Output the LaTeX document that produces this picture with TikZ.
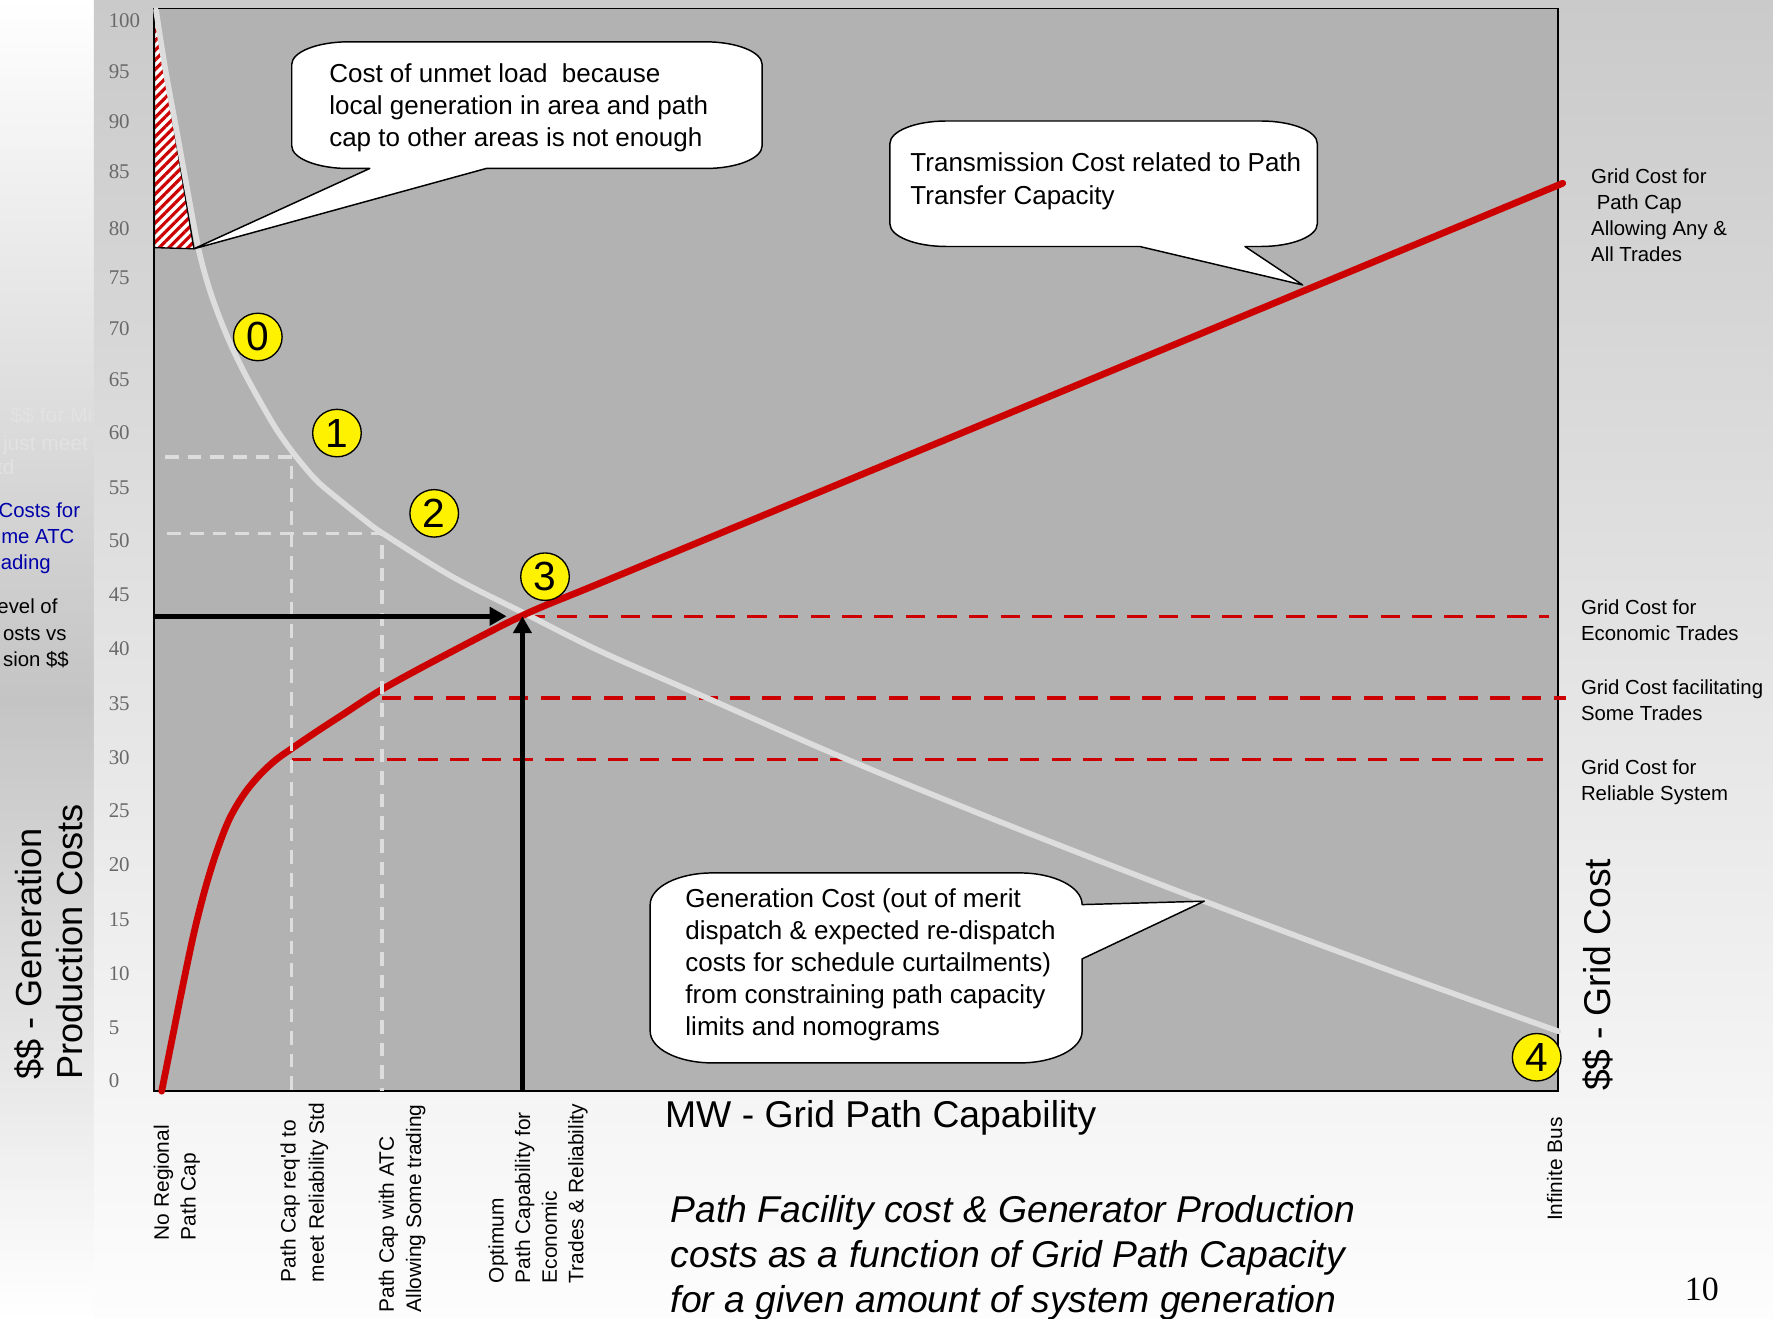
\documentclass[tikz,border=0pt]{standalone}
\usepackage{fontspec}
\setmainfont{Liberation Sans}
\newfontfamily\numfont{Liberation Serif}
\usetikzlibrary{arrows.meta,patterns.meta,shapes.geometric}

\definecolor{plotgray}{RGB}{178,178,178}
\definecolor{curvegray}{RGB}{221,221,221}
\definecolor{gridred}{RGB}{204,0,0}
\definecolor{ticktext}{RGB}{105,105,105}
\definecolor{bgtop}{RGB}{202,202,202}
\definecolor{bgbot}{RGB}{253,253,253}
\definecolor{stripmid}{RGB}{196,196,196}
\definecolor{fadedtext}{RGB}{226,226,226}
\definecolor{notesblue}{RGB}{0,0,170}

\begin{document}
\begin{tikzpicture}[x=1pt,y=-1pt,
  bubble/.style={fill=white,draw=black,line width=1.3pt,line join=round},
  calltext/.style={anchor=north west,align=left,inner sep=0pt,font=\fontsize{23}{28.3}\selectfont},
  sidetext/.style={anchor=north west,align=left,inner sep=0pt,font=\fontsize{18}{23}\selectfont},
  axlabel/.style={anchor=north west,align=left,inner sep=0pt,rotate=90,font=\fontsize{18.5}{23.5}\selectfont},
  ticklabel/.style={anchor=west,inner sep=0pt,text=ticktext,font=\numfont\fontsize{18.5}{20}\selectfont},
  badge/.style={ellipse,fill=yellow,draw=black,line width=1.2pt,minimum width=43pt,minimum height=42pt,inner sep=0pt,font=\fontsize{36}{36}\selectfont},
  refdash/.style={draw=curvegray,line width=3pt,dash pattern=on 12pt off 8pt},
  leveldash/.style={draw=gridred,line width=2.5pt,dash pattern=on 17pt off 11pt},
  leaderarrow/.style={line width=4.5pt,-{Triangle[length=15pt,width=16pt]}},
  stripnote/.style={anchor=base east,inner sep=0pt,font=\fontsize{18}{23}\selectfont}
]
\useasboundingbox (0,0) rectangle (1568,1166);

% ---- backgrounds ----
\shade[top color=white,bottom color=stripmid] (0,0) rectangle (84,620);
\shade[top color=stripmid,bottom color=white] (0,619.5) rectangle (84,1166);

% notes of the slide column at the left edge
\node[stripnote,text=fadedtext,font=\fontsize{18.5}{23}\selectfont] (noteC1) at (92,374) {\$\$ for Min};
\node[stripnote,text=fadedtext,font=\fontsize{18.5}{23}\selectfont] (noteC2) at (78,398) {just meet};
\node[stripnote,text=fadedtext,font=\fontsize{18.5}{23}\selectfont] (noteC3) at (13,420) {td};
\node[stripnote,text=notesblue] (noteA1) at (71,458) {Costs for};
\node[stripnote,text=notesblue] (noteA2) at (66,481) {me ATC};
\node[stripnote,text=notesblue] (noteA3) at (45,504) {ading};
\node[stripnote] (noteB1) at (51,543) {evel of};
\node[stripnote] (noteB2) at (59,566) {osts vs};
\node[stripnote] (noteB3) at (61,589) {sion \$\$};

\shade[top color=bgtop,bottom color=bgbot] (83,0) rectangle (1568,1166);

% ---- plot area ----
\draw[fill=plotgray,line width=1.5pt] (136,7.5) rectangle (1378,965);

% unmet-load wedge
\coordinate (tritop) at (136.5,8.5);
\coordinate (trileft) at (136.5,219);
\coordinate (tipA) at (171.5,220);
\fill[white] (tritop) -- (trileft) -- (tipA) -- cycle;
\fill[pattern={Lines[angle=45,distance=6pt,line width=2.8pt]},pattern color=gridred] (tritop) -- (trileft) -- (tipA) -- cycle;
\draw[line width=1.2pt,line join=round] (tritop) -- (trileft) -- (tipA) -- cycle;

% grid cost levels
\draw[leveldash] (465,545) -- (1370,545);
\draw[leveldash,line width=3.5pt] (338,617) -- (1385,617);
\draw[leveldash] (258,672) -- (1365,672);

% generation cost curve
\draw[curvegray,line width=5pt,line cap=round] plot[smooth,tension=0.55] coordinates {
  (138,9) (146,60) (157,120) (167,175) (176,222) (185,255) (195,283) (206,309)
  (220,337) (238,369) (248,385) (262,404) (280,425) (300,442) (320,458) (339,472)
  (400,510) (465,543) (531,576) (620,615) (750,672) (900,733) (1065,797) (1220,855) (1378,912)};

% grid cost curve
\draw[gridred,line width=6pt,line cap=round] plot[smooth,tension=0.55] coordinates {
  (143,965) (152,920) (162,870) (172,823) (182,784) (192,752) (203,724) (216,702)
  (230,685) (244,672) (258,662) (280,647) (300,634) (339,609) (400,576) (465,543)
  (531,515.6) (700,445.4) (1000,320.8) (1382,162.1)};

% reference path capabilities
\draw[refdash] (146,404) -- (258,404) -- (258,965);
\draw[refdash] (148,472) -- (338,472) -- (338,965);

% optimum point leaders
\coordinate (opt) at (462,545);
\coordinate (optleft) at (448,545);
\coordinate (yopt) at (137,545);
\coordinate (xopt) at (462,965);
\draw[leaderarrow] (yopt) -- (optleft);
\draw[leaderarrow] (xopt) -- (opt);

% numbered stages
\node[badge] (n0) at (228,298) {0};
\node[badge] (n1) at (298,383) {1};
\node[badge] (n2) at (384,454) {2};
\node[badge] (n3) at (482,510) {3};
\node[badge] (n4) at (1359,935) {4};

% ---- callouts ----
\draw[bubble] (308,37) -- (624,37)
  .. controls (651.6,37) and (674,46) .. (674,57) -- (674,129)
  .. controls (674,140) and (651.6,149) .. (624,149)
  -- (430,149) -- (tipA) -- (327,149) -- (308,149)
  .. controls (280.4,149) and (258,140) .. (258,129) -- (258,57)
  .. controls (258,46) and (280.4,37) .. (308,37) -- cycle;
\node[calltext] (unmet) at (291,55.7) {Cost of unmet load\ \ because\\local generation in area and path\\cap to other areas is not enough};

\coordinate (tipB) at (1152,252);
\draw[bubble] (837,107) -- (1115,107)
  .. controls (1142.6,107) and (1165,116) .. (1165,127) -- (1165,198)
  .. controls (1165,209) and (1142.6,218) .. (1115,218)
  -- (1101,218) -- (tipB) -- (1008,218) -- (837,218)
  .. controls (809.4,218) and (787,209) .. (787,198) -- (787,127)
  .. controls (787,116) and (809.4,107) .. (837,107) -- cycle;
\node[calltext,font=\fontsize{23}{29}\selectfont] (trans) at (805,135) {Transmission Cost related to Path\\Transfer Capacity};

\coordinate (tipC) at (1065,797);
\draw[bubble] (630,772) -- (902,772)
  .. controls (932.4,772) and (957,784.5) .. (957,800)
  -- (tipC) -- (957,848) -- (957,912)
  .. controls (957,927.5) and (932.4,940) .. (902,940) -- (630,940)
  .. controls (599.6,940) and (575,927.5) .. (575,912) -- (575,800)
  .. controls (575,784.5) and (599.6,772) .. (630,772) -- cycle;
\node[calltext] (gen) at (606,786) {Generation Cost (out of merit\\dispatch \& expected re-dispatch\\costs for schedule curtailments)\\from constraining path capacity\\limits and nomograms};

% ---- axis numbers ----
\foreach \v/\yy in {100/18,95/63,90/108,85/152,80/202,75/246,70/291,65/336,60/383,55/431,
  50/478,45/526,40/574,35/622,30/670,25/717,20/765,15/813,10/861,5/909,0/956}
  \node[ticklabel] (tick\v) at (96,\yy) {\v};

% ---- axis titles ----
\node[anchor=north west,align=left,inner sep=0pt,rotate=90,font=\fontsize{32}{37}\selectfont] (ytitle) at (12.5,955) {\$\$ - Generation\\Production Costs};
\node[anchor=north west,inner sep=0pt,rotate=90,font=\fontsize{33}{38}\selectfont] (y2title) at (1400,965) {\$\$ - Grid Cost};
\node[anchor=base west,inner sep=0pt,font=\fontsize{33}{38}\selectfont] (xtitle) at (588,997) {MW - Grid Path Capability};

% ---- path capability marks ----
\node[axlabel] (capnone) at (135.8,1097) {No Regional\\Path Cap};
\node[axlabel,font=\fontsize{18.5}{25}\selectfont] (caprel) at (247.8,1134) {Path Cap req\textquotesingle d to\\meet Reliability Std};
\node[axlabel,font=\fontsize{18.5}{24}\selectfont] (capatc) at (334.8,1161) {Path Cap with ATC\\Allowing Some trading};
\node[axlabel] (capopt) at (431.8,1135) {Optimum\\Path Capability for\\Economic\\Trades \& Reliability};
\node[axlabel] (capinf) at (1367.8,1080) {Infinite Bus};

% ---- grid cost levels ----
\node[sidetext] (lvlall) at (1407,149) {Grid Cost for\\\hspace*{5pt}Path Cap\\Allowing Any \&\\All Trades};
\node[sidetext] (lvleco) at (1398,530) {Grid Cost for\\Economic Trades};
\node[sidetext] (lvlsome) at (1398,601) {Grid Cost facilitating\\Some Trades};
\node[sidetext] (lvlrel) at (1398,672) {Grid Cost for\\Reliable System};

% ---- caption and page number ----
\node[anchor=north west,align=left,inner sep=0pt,font=\itshape\fontsize{33}{40}\selectfont] (caption) at (593,1057) {Path Facility cost \& Generator Production\\costs as a function of Grid Path Capacity\\for a given amount of system generation};
\node[inner sep=0pt,font=\numfont\fontsize{30}{32}\selectfont] (pagenum) at (1505,1140) {10};
\end{tikzpicture}
\end{document}
